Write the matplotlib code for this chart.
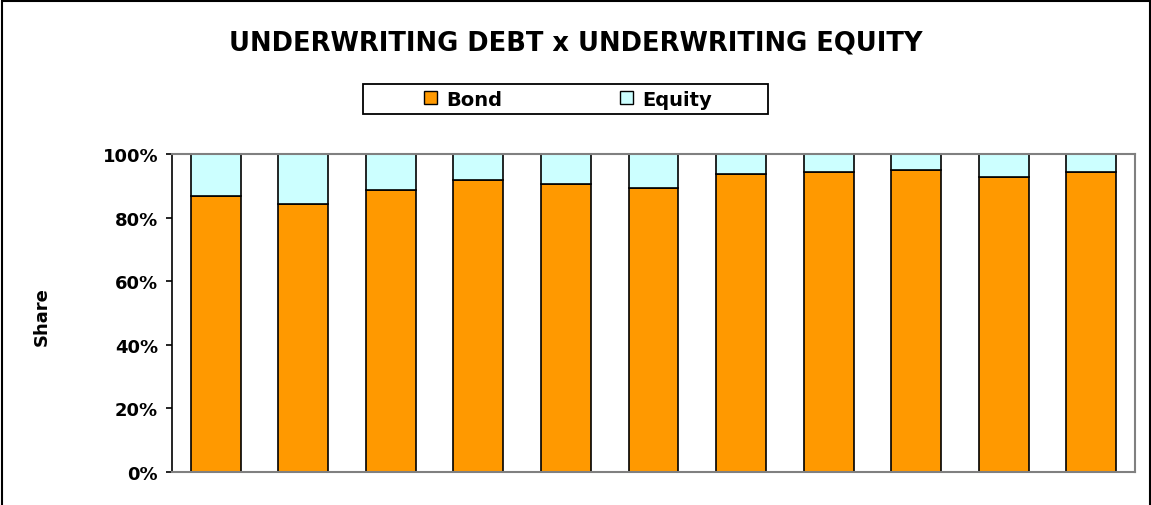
import matplotlib.pyplot as plt
from matplotlib.patches import Rectangle, Patch
from matplotlib.ticker import FuncFormatter

plt.rcParams["font.family"] = ["DejaVu Sans"]
plt.rcParams["font.weight"] = "bold"

# ---------- Data ----------
periods = [1, 2, 3, 4, 5, 6, 7, 8, 9, 10, 11]
bond = [86.8, 84.3, 88.7, 91.8, 90.7, 89.3, 93.8, 94.3, 94.9, 92.9, 94.3]
equity = [13.2, 15.7, 11.3, 8.2, 9.3, 10.7, 6.2, 5.7, 5.1, 7.1, 5.7]
y_ticks = [0, 20, 40, 60, 80, 100]

BOND_COLOR = "#FF9900"
EQUITY_COLOR = "#CCFFFF"

# ---------- Figure ----------
W, H = 1151, 506
fig = plt.figure(figsize=(W / 100, H / 100), dpi=100)
ax = fig.add_axes([172 / W, 1 - 473 / H, (1135 - 172) / W, (473 - 155) / H])

x = list(range(len(periods)))
ax.bar(x, bond, width=0.57, color=BOND_COLOR, edgecolor="black", linewidth=1.2, label="Bond")
ax.bar(x, equity, width=0.57, bottom=bond, color=EQUITY_COLOR, edgecolor="black",
       linewidth=1.2, label="Equity")

ax.set_xlim(-0.5, len(periods) - 0.5)
ax.set_ylim(0, 100)
ax.set_yticks(y_ticks)
ax.yaxis.set_major_formatter(FuncFormatter(lambda v, _: f"{v:.0f}%"))
ax.set_xticks([])
ax.tick_params(axis="y", direction="out", length=4.5, width=1.2, labelsize=13, pad=5.5)
for lbl in ax.get_yticklabels():
    lbl.set_fontweight("bold")

for side in ["top", "right", "bottom"]:
    ax.spines[side].set_color("#808080")
    ax.spines[side].set_linewidth(1.5)
ax.spines["left"].set_color("black")
ax.spines["left"].set_linewidth(1.2)

fig.text(42 / W, 1 - 317 / H, "Share", rotation=90, ha="center", va="center",
         fontsize=13, fontweight="bold")

# ---------- Title ----------
fig.text(576 / W, 1 - 43 / H, "UNDERWRITING DEBT x UNDERWRITING EQUITY",
         ha="center", va="center", fontsize=18.5, fontweight="bold")

# ---------- Legend ----------
fig.add_artist(Rectangle((363 / W, 1 - 115 / H), (768 - 363) / W, 30 / H,
                         transform=fig.transFigure, facecolor="white",
                         edgecolor="black", linewidth=1.3))
handles = [Patch(facecolor=BOND_COLOR, edgecolor="black", linewidth=1.0),
           Patch(facecolor=EQUITY_COLOR, edgecolor="black", linewidth=1.0)]
fig.legend(handles, ["Bond", "Equity"], loc="center", bbox_to_anchor=(568 / W, 1 - 100 / H),
           ncol=2, frameon=False, handlelength=0.65, handleheight=0.65,
           handletextpad=0.45, columnspacing=6.1, prop={"weight": "bold", "size": 14})

# ---------- Outer chart border ----------
fig.add_artist(Rectangle((2 / W, -0.05), (1150 - 2) / W, 1.05 - 2 / H,
                         transform=fig.transFigure, facecolor="none",
                         edgecolor="black", linewidth=1.5, clip_on=False))

fig.savefig("out.png", dpi=100)
